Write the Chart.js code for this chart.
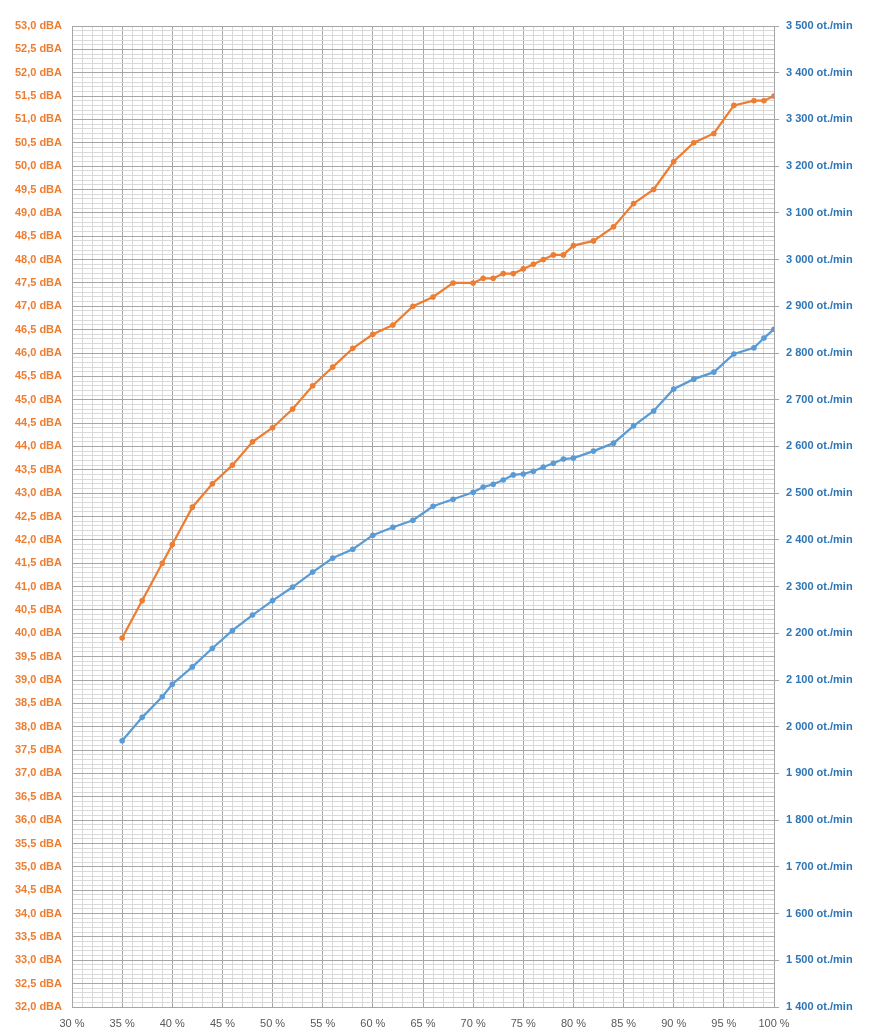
<!DOCTYPE html>
<html>
<head>
<meta charset="utf-8">
<script src="https://cdn.jsdelivr.net/npm/chart.js@4"></script>
<style>
  html, body { margin: 0; padding: 0; background: #fff; }
  #wrap { width: 881px; height: 1034px; position: relative; }
</style>
</head>
<body>
<div id="wrap"><canvas id="chart"></canvas></div>
<script>
// fan speed in %
const speeds = [35, 37, 39, 40, 42, 44, 46, 48, 50, 52, 54, 56, 58, 60, 62, 64, 66, 68, 70, 71,
  72, 73, 74, 75, 76, 77, 78, 79, 80, 82, 84, 86, 88, 90, 92, 94, 96, 98, 99, 100];

// noise level, dBA (left axis)
const noise = [39.9, 40.7, 41.5, 41.9, 42.7, 43.2, 43.6, 44.1, 44.4, 44.8, 45.3, 45.7, 46.1, 46.4, 46.6, 47.0, 47.2, 47.5, 47.5, 47.6,
  47.6, 47.7, 47.7, 47.8, 47.9, 48.0, 48.1, 48.1, 48.3, 48.4, 48.7, 49.2, 49.5, 50.1, 50.5, 50.7, 51.3, 51.4, 51.4, 51.5];

// rotation speed, ot./min (right axis)
const rpm = [1970, 2020, 2064, 2091, 2128, 2168, 2206, 2239, 2270, 2299, 2331, 2361, 2380, 2410, 2427, 2442, 2472, 2487, 2502, 2513,
  2519, 2528, 2539, 2541, 2547, 2556, 2564, 2573, 2575, 2590, 2607, 2644, 2676, 2723, 2744, 2759, 2798, 2811, 2832, 2851];

const majorGrid = '#A6A6A6';
const minorGrid = '#D9D9D9';
const orange = '#ED7D31';
const blue = '#5B9BD5';

function fmtDba(v) {
  return v.toFixed(1).replace('.', ',') + ' dBA';
}
function fmtRpm(v) {
  const r = Math.round(v);
  return Math.floor(r / 1000) + ' ' + String(r % 1000).padStart(3, '0') + ' ot./min';
}

const ctx = document.getElementById('chart').getContext('2d');
new Chart(ctx, {
  type: 'line',
  data: {
    datasets: [
      {
        label: 'dBA',
        data: speeds.map((s, i) => ({ x: s, y: noise[i] })),
        yAxisID: 'y',
        borderColor: orange,
        backgroundColor: orange,
        borderWidth: 2.25,
        pointRadius: 2.8,
        pointBorderWidth: 0,
        tension: 0
      },
      {
        label: 'ot./min',
        data: speeds.map((s, i) => ({ x: s, y: rpm[i] })),
        yAxisID: 'y2',
        borderColor: blue,
        backgroundColor: blue,
        borderWidth: 2.25,
        pointRadius: 2.8,
        pointBorderWidth: 0,
        tension: 0
      }
    ]
  },
  options: {
    responsive: true,
    maintainAspectRatio: false,
    animation: false,
    layout: { padding: { top: 26, left: 0, right: 0, bottom: 0 } },
    plugins: { legend: { display: false }, tooltip: { enabled: false } },
    scales: {
      x: {
        type: 'linear',
        min: 30,
        max: 100,
        afterFit: s => { s.height = 27; },
        border: { color: majorGrid },
        grid: {
          drawTicks: false,
          color: c => (c.tick && Math.round(c.tick.value) % 5 === 0) ? majorGrid : minorGrid
        },
        ticks: {
          stepSize: 1,
          autoSkip: false,
          maxRotation: 0,
          padding: 10,
          color: '#595959',
          font: { family: 'Liberation Sans', size: 11 },
          callback: v => (Math.round(v) % 5 === 0) ? Math.round(v) + ' %' : ''
        }
      },
      y: {
        type: 'linear',
        position: 'left',
        min: 32,
        max: 53,
        afterFit: s => { s.width = 72; },
        border: { color: majorGrid },
        grid: {
          drawTicks: false,
          color: c => (c.tick && Math.round(c.tick.value * 10) % 5 === 0) ? majorGrid : minorGrid
        },
        ticks: {
          stepSize: 0.1,
          autoSkip: false,
          padding: 10,
          color: orange,
          font: { family: 'Liberation Sans', size: 11, weight: 'bold' },
          callback: v => (Math.round(v * 10) % 5 === 0) ? fmtDba(v) : ''
        }
      },
      y2: {
        type: 'linear',
        position: 'right',
        min: 1400,
        max: 3500,
        afterFit: s => { s.width = 107; },
        border: { color: majorGrid },
        grid: { drawOnChartArea: false, tickLength: 5, color: majorGrid },
        ticks: {
          stepSize: 100,
          autoSkip: false,
          padding: 7,
          color: '#2E75B6',
          font: { family: 'Liberation Sans', size: 11, weight: 'bold' },
          callback: v => fmtRpm(v)
        }
      }
    }
  }
});
</script>
</body>
</html>
